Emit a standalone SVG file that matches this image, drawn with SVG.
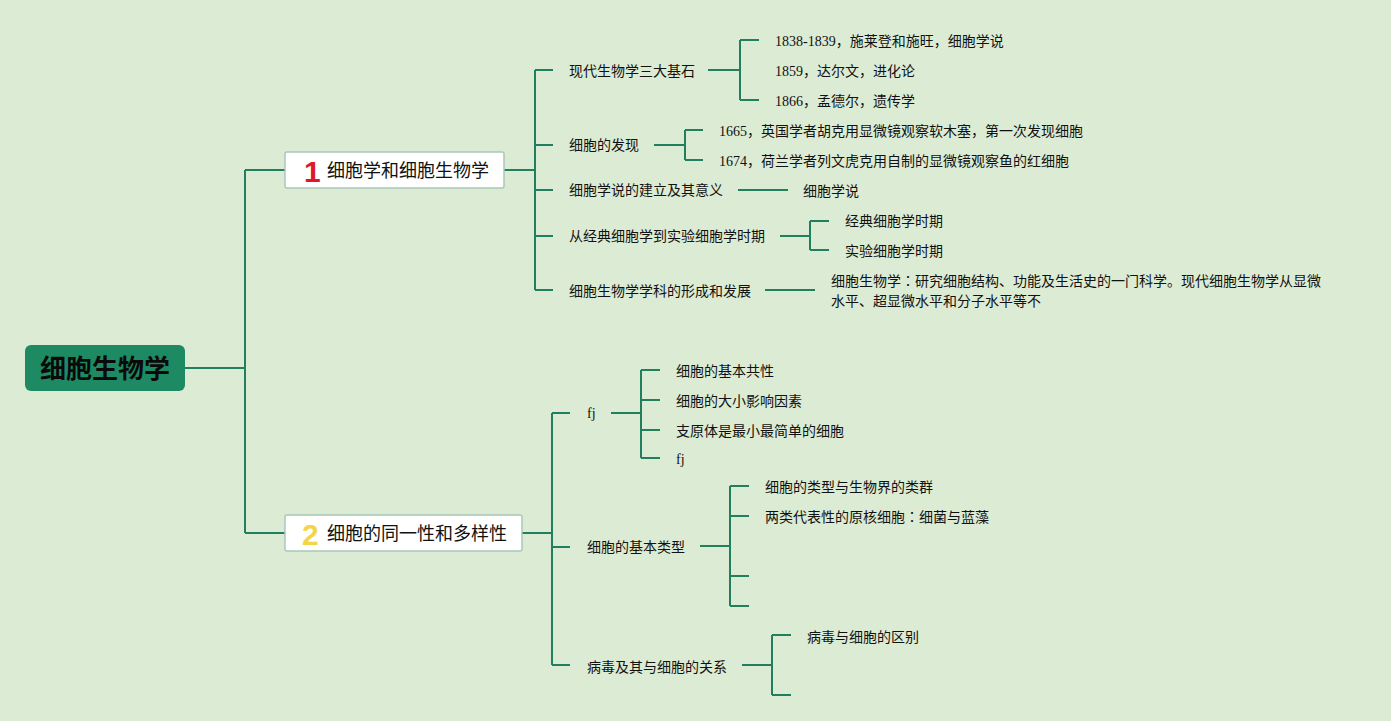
<svg xmlns="http://www.w3.org/2000/svg" width="1391" height="721" viewBox="0 0 1391 721">
<style>
.bg{fill:#dcebd4}
.ln{fill:none;stroke:#1f7f5f;stroke-width:2}
.t{font-family:"Liberation Serif","Noto Sans CJK SC",serif;font-size:14px;fill:#111}
.n{font-family:"Noto Sans CJK SC",sans-serif;font-size:18px;fill:#111}
.box{fill:#ffffff;stroke:#a9c8b8;stroke-width:1.5}
.num{font-family:"Liberation Sans","Noto Sans",sans-serif;font-size:30px;font-weight:bold}
.cc{font-family:"Noto Sans CJK TC",sans-serif}
</style>
<rect class="bg" x="0" y="0" width="1391" height="721"/>
<g id="connectors">
<path class="ln" d="M185,368H245M245,170V533M245,170H285M245,533H285"/>
<path class="ln" d="M504,170H535M535,70V290M535,70H553M535,145H553M535,190H553M535,236H553M535,290H553"/>
<path class="ln" d="M708,70H740M740,40V100M740,40H759M740,100H759"/>
<path class="ln" d="M654,145H685M685,130V160M685,130H703M685,160H703"/>
<path class="ln" d="M738,190H788"/>
<path class="ln" d="M780,236H810M810,221V250M810,221H829M810,250H829"/>
<path class="ln" d="M765,290H815"/>
<path class="ln" d="M522,533H552M552,413V665M552,413H570M552,547H570M552,665H570"/>
<path class="ln" d="M611,413H641M641,370V458M641,370H660M641,400H660M641,430H660M641,458H660"/>
<path class="ln" d="M700,546H730M730,486V606M730,486H749M730,516H749M730,576H749M730,606H749"/>
<path class="ln" d="M742,665H772M772,635V695M772,635H791M772,695H791"/>
</g>
<g id="root">
<rect x="25" y="345" width="160" height="46" rx="6" fill="#1e8a64"/>
<text x="105" y="378" text-anchor="middle" font-family="Noto Sans CJK SC,sans-serif" font-size="26" font-weight="bold" fill="#0a0a0a">细胞生物学</text>
</g>
<g id="node1">
<rect class="box" x="285" y="152" width="219" height="36" rx="2"/>
<text class="num" x="304" y="182" fill="#e0182d">1</text>
<text class="n" x="327" y="177">细胞学和细胞生物学</text>
</g>
<g id="node2">
<rect class="box" x="285" y="515" width="237" height="36" rx="2"/>
<text class="num" x="302" y="545" fill="#f2d54a">2</text>
<text class="n" x="327" y="540">细胞的同一性和多样性</text>
</g>
<g id="n1-1"><text class="t" x="569" y="76">现代生物学三大基石</text></g>
<g id="n1-1-1"><text class="t" x="775" y="46">1838-1839，施莱登和施旺，细胞学说</text></g>
<g id="n1-1-2"><text class="t" x="775" y="76">1859，达尔文，进化论</text></g>
<g id="n1-1-3"><text class="t" x="775" y="106">1866，孟德尔，遗传学</text></g>
<g id="n1-2"><text class="t" x="569" y="150">细胞的发现</text></g>
<g id="n1-2-1"><text class="t" x="719" y="136">1665，英国学者胡克用显微镜观察软木塞，第一次发现细胞</text></g>
<g id="n1-2-2"><text class="t" x="719" y="166">1674，荷兰学者列文虎克用自制的显微镜观察鱼的红细胞</text></g>
<g id="n1-3"><text class="t" x="569" y="195">细胞学说的建立及其意义</text></g>
<g id="n1-3-1"><text class="t" x="803" y="196">细胞学说</text></g>
<g id="n1-4"><text class="t" x="569" y="241">从经典细胞学到实验细胞学时期</text></g>
<g id="n1-4-1"><text class="t" x="845" y="226">经典细胞学时期</text></g>
<g id="n1-4-2"><text class="t" x="845" y="256">实验细胞学时期</text></g>
<g id="n1-5"><text class="t" x="569" y="296">细胞生物学学科的形成和发展</text></g>
<g id="n1-5-1"><text class="t" x="831" y="286">细胞生物学<tspan class="cc">：</tspan>研究细胞结构、功能及生活史的一门科学。现代细胞生物学从显微</text><text class="t" x="831" y="306">水平、超显微水平和分子水平等不</text></g>
<g id="n2-1"><text class="t" x="587" y="418">fj</text></g>
<g id="n2-1-1"><text class="t" x="676" y="376">细胞的基本共性</text></g>
<g id="n2-1-2"><text class="t" x="676" y="406">细胞的大小影响因素</text></g>
<g id="n2-1-3"><text class="t" x="676" y="436">支原体是最小最简单的细胞</text></g>
<g id="n2-1-4"><text class="t" x="676" y="464">fj</text></g>
<g id="n2-2"><text class="t" x="587" y="552">细胞的基本类型</text></g>
<g id="n2-2-1"><text class="t" x="765" y="492">细胞的类型与生物界的类群</text></g>
<g id="n2-2-2"><text class="t" x="765" y="522">两类代表性的原核细胞<tspan class="cc">：</tspan>细菌与蓝藻</text></g>
<g id="n2-3"><text class="t" x="587" y="672">病毒及其与细胞的关系</text></g>
<g id="n2-3-1"><text class="t" x="807" y="642">病毒与细胞的区别</text></g>
</svg>
